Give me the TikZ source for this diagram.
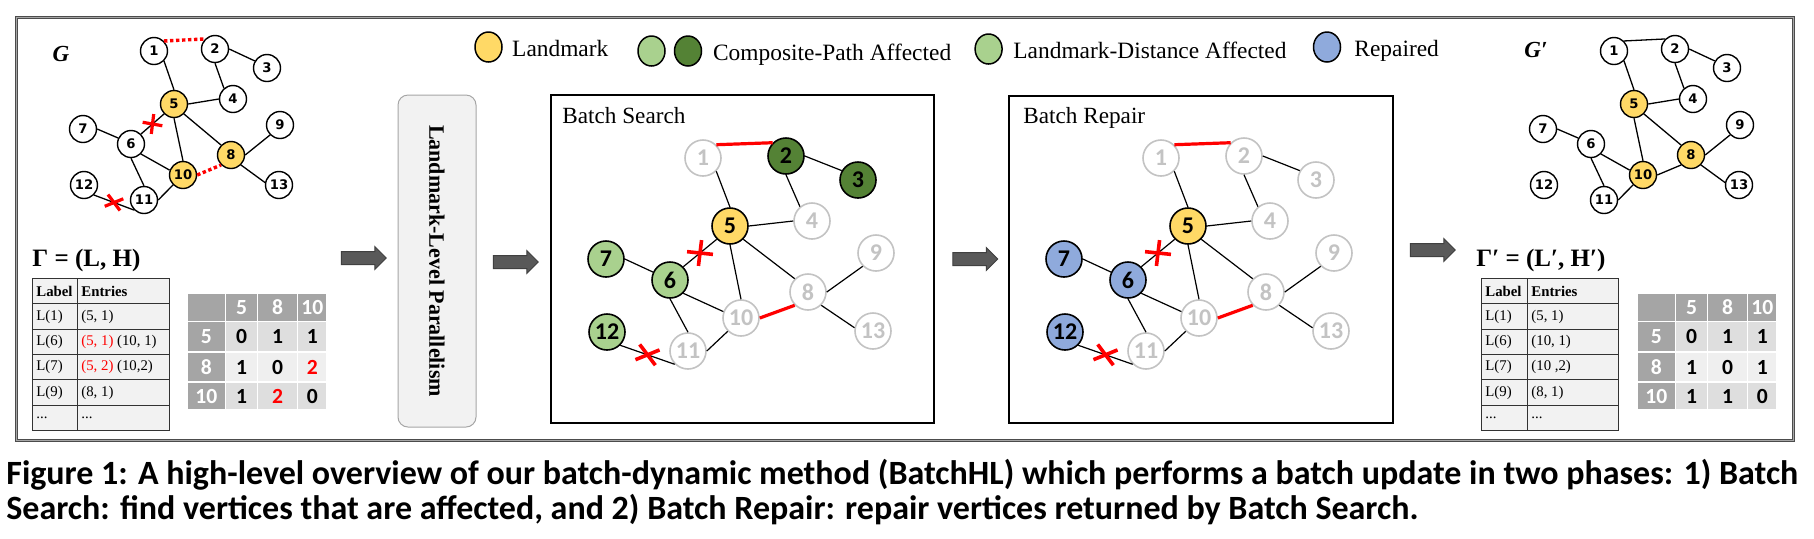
\documentclass[tikz,border=0pt]{standalone}
\usepackage{fontspec}
\setmainfont{Liberation Serif}
\newfontfamily\carl{Carlito}
\newfontfamily\dejv{DejaVu Sans}
\usetikzlibrary{shapes.geometric,shapes.arrows,calc}
\definecolor{lmyel}{HTML}{FFD966}
\definecolor{lgreen}{HTML}{A9D18E}
\definecolor{dgreen}{HTML}{548235}
\definecolor{rblue}{HTML}{8FAADC}
\definecolor{ghost}{HTML}{C3C3C3}
\definecolor{hdr}{HTML}{A5A5A5}
\definecolor{rowa}{HTML}{DEDEDE}
\definecolor{rowb}{HTML}{EFEFEF}
\definecolor{tcell}{HTML}{F2F2F2}
\definecolor{arrowc}{HTML}{595959}
\definecolor{xred}{HTML}{FF0000}

\newcommand\redcross[5]{%
  \draw[draw=xred,line width=#5] ($(#1)+(#3:#2)$) -- ($(#1)+({#3+180}:#2)$);
  \draw[draw=xred,line width=#5] ($(#1)+(#4:#2)$) -- ($(#1)+({#4+180}:#2)$);}
\newcommand\tdots{...}

% matrix row: #1 prefix, #2 row id, #3 y centre, #4 height(pt), #5 style of data cells, #6..#9 texts
\newcommand\hrow[9]{%
  \node[hcell,hh,minimum width=19.25pt,minimum height=#4] (#1#2a) at (\hx+19.25,#3) {#6};
  \node[hcell,#5,minimum width=16pt,minimum height=#4] (#1#2b) at (\hx+54.5,#3) {#7};
  \node[hcell,#5,minimum width=20pt,minimum height=#4] (#1#2c) at (\hx+90.5,#3) {#8};
  \node[hcell,#5,minimum width=14.75pt,minimum height=#4] (#1#2d) at (\hx+125.25,#3) {#9};}

\def\commonedges{1.-45/5.90, 2.0/3.150, 2.-90/4.130, 5.0/4.180, 5.-90/10.90, 5.-45/8.135, 7.0/6.155, 6.-45/10.160, 6.-90/11.90, 11.0/10.-135, 8.0/9.-135, 8.-45/13.170}

\begin{document}
\begin{tikzpicture}[x=0.5pt,y=-0.5pt,
  gn/.style={circle,draw=black,line width=0.7pt,fill=white,minimum size=13.5pt,inner sep=0pt,font=\dejv\bfseries\fontsize{6.6}{7}\selectfont},
  gy/.style={gn,fill=lmyel},
  gedge/.style={line width=0.65pt},
  bn/.style={circle,draw=ghost,line width=0.8pt,fill=white,text=ghost,minimum size=18pt,inner sep=0pt,font=\carl\bfseries\fontsize{12}{12}\selectfont},
  by/.style={bn,draw=black,text=black,fill=lmyel},
  blg/.style={bn,draw=black,text=black,fill=lgreen},
  bdg/.style={bn,draw=black,text=black,fill=dgreen},
  bbl/.style={bn,draw=black,text=black,fill=rblue},
  bedge/.style={line width=0.6pt},
  redsolid/.style={draw=xred,line width=1.6pt},
  reddot/.style={draw=xred,line width=1.7pt,dash pattern=on 1.7pt off 1.3pt},
  leg/.style={ellipse,draw=black,line width=0.75pt,minimum width=13.5pt,minimum height=15pt,inner sep=0pt},
  legt/.style={anchor=base west,inner sep=0pt,font=\fontsize{11.7}{13}\selectfont},
  blockarrow/.style={single arrow,draw=black!75,fill=arrowc,line width=0.5pt,minimum height=22.5pt,single arrow head extend=2.5pt,inner xsep=0pt,inner ysep=3pt,single arrow head indent=0pt},
  bbox/.style={draw=black,line width=1pt,anchor=north west,inner sep=0pt},
  lcell/.style={anchor=north west,draw=black!80,fill=tcell,line width=0.5pt,minimum height=12.67pt,inner sep=0pt},
  ltext/.style={anchor=west,inner sep=0pt,font=\fontsize{7.4}{8}\selectfont},
  hcell/.style={draw=white,line width=0.8pt,inner sep=0pt,font=\carl\bfseries\fontsize{10.8}{11}\selectfont},
  hh/.style={fill=hdr,text=white},
  ra/.style={fill=rowa,text=black},
  rb/.style={fill=rowb,text=black},
  gam/.style={anchor=west,inner sep=0pt,font=\bfseries\fontsize{12.5}{13}\selectfont},
  captext/.style={anchor=base west,inner sep=0pt,font=\carl\bfseries\fontsize{17}{19}\selectfont}
]
\useasboundingbox (0,0) rectangle (1814,538);
\path[fill=white] (0,0) rectangle (1814,538);

% outer frame
\node[draw=black!70,double=black!35,double distance=0.5pt,line width=0.4pt,anchor=north west,minimum width=888.5pt,minimum height=211.5pt,inner sep=0pt] (frame) at (16,17) {};

% ---------- legend ----------
\node[leg,fill=lmyel] (ly) at (488.5,47) {};
\node[legt] (lyt) at (511.8,56.5) {Landmark};
\node[leg,fill=lgreen] (lg1) at (651.5,51) {};
\node[leg,fill=dgreen] (lg2) at (688,51) {};
\node[legt] (lgt) at (712.7,60.5) {Composite-Path Affected};
\node[leg,fill=lgreen] (lg3) at (988.6,49) {};
\node[legt] (lg3t) at (1013,58.5) {Landmark-Distance Affected};
\node[leg,fill=rblue] (lb) at (1327,47) {};
\node[legt] (lbt) at (1354,56.5) {Repaired};

% ---------- graph G ----------
\node[font=\bfseries\itshape\fontsize{11.5}{12}\selectfont] (glab) at (61,54) {G};
\foreach \n/\x/\y/\s in {1/154/51/gn,2/215/49/gn,3/267/68/gn,4/233/99/gn,5/174/104/gy,6/131/144/gn,7/83/129/gn,8/231/155/gy,9/280/125/gn,10/183/175/gy,11/144/200/gn,12/84/185/gn,13/279/185/gn}
  \node[\s] (G\n) at (\x,\y) {\n};
\foreach \a/\b in \commonedges {\draw[gedge] (G\a) -- (G\b);}
\draw[reddot] (G1.45) -- (G2.135);
\draw[reddot] (G10.0) -- (G8.-135);
\draw[gedge] (G5.-135) -- coordinate[pos=0.5] (GXa) (G6.45);
\draw[gedge] (G12.-45) -- coordinate[pos=0.5] (GXb) (G11.-135);
\redcross{GXa}{5pt}{83}{-10}{1.6pt}
\redcross{GXb}{5pt}{-53}{22}{1.6pt}

% ---------- Gamma = (L,H) ----------
\node[gam] (gam) at (32,260) {Γ = (L, H)};
\foreach \r/\ta/\tb in {0/{\bfseries Label}/{\bfseries Entries},1/L(1)/{(5, 1)},2/L(6)/{\textcolor{xred}{(5, 1)} (10, 1)},3/L(7)/{\textcolor{xred}{(5, 2)} (10,2)},4/L(9)/{(8, 1)},5/\tdots/\tdots}{
  \node[lcell,minimum width=22.5pt] (La\r) at (32,{278+25.33*\r}) {};
  \node[lcell,minimum width=46pt] (Lb\r) at (77,{278+25.33*\r}) {};
  \node[ltext] (Lat\r) at ([xshift=2pt]La\r.west) {\ta};
  \node[ltext] (Lbt\r) at ([xshift=2pt]Lb\r.west) {\tb};
}
\def\hx{187}
\hrow{H}{0}{307.25}{14.25pt}{hh}{}{5}{8}{10}
\hrow{H}{1}{336.75}{15.25pt}{ra}{5}{0}{1}{1}
\hrow{H}{2}{367}{15pt}{rb}{8}{1}{0}{\textcolor{xred}{2}}
\hrow{H}{3}{396}{14pt}{ra}{10}{1}{\textcolor{xred}{2}}{0}

% ---------- arrows and parallelism box ----------
\node[blockarrow] (ar1) at (360.5,258) {};
\node[rotate=-90,draw=black!35,fill=tcell,rounded corners=5pt,minimum width=166pt,minimum height=39pt,line width=0.5pt,font=\bfseries\fontsize{11}{12}\selectfont] (llp) at (437,261) {Landmark-Level Parallelism};
\node[blockarrow] (ar2) at (512.5,262) {};
\node[blockarrow] (ar3) at (972,259) {};
\node[blockarrow] (ar4) at (1429.5,250) {};

% ---------- Batch Search ----------
\node[bbox,minimum width=191.5pt,minimum height=164pt] (sbox) at (550,94) {};
\node[anchor=base west,inner sep=0pt,font=\fontsize{11.6}{13}\selectfont] (stitle) at (562,123) {Batch Search};
\foreach \n/\x/\y/\s in {1/703/158/bn,2/786/156/bdg,3/858/180/bdg,4/812/221/bn,5/730/226/by,6/670/280/blg,7/606/259/blg,8/808/292/bn,9/876/253/bn,10/741/318/bn,11/688/351/bn,12/607/332/blg,13/873/331/bn}
  \node[\s] (S\n) at (\x,\y) {\n};
\foreach \a/\b in \commonedges {\draw[bedge] (S\a) -- (S\b);}
\draw[redsolid] (S1.45) -- (S2.135);
\draw[redsolid] (S10.0) -- (S8.-135);
\draw[bedge] (S5.-135) -- coordinate[pos=0.5] (SXa) (S6.45);
\draw[bedge] (S12.-45) -- coordinate[pos=0.5] (SXb) (S11.-135);
\redcross{SXa}{6.5pt}{83}{-6}{1.8pt}
\redcross{SXb}{6.5pt}{-53}{22}{1.8pt}

% ---------- Batch Repair ----------
\node[bbox,minimum width=192pt,minimum height=163.5pt] (rbox) at (1008,95) {};
\node[anchor=base west,inner sep=0pt,font=\fontsize{11.6}{13}\selectfont] (rtitle) at (1023,123) {Batch Repair};
\begin{scope}[xshift=229pt]
\foreach \n/\x/\y/\s in {1/703/158/bn,2/786/156/bn,3/858/180/bn,4/812/221/bn,5/730/226/by,6/670/280/bbl,7/606/259/bbl,8/808/292/bn,9/876/253/bn,10/741/318/bn,11/688/351/bn,12/607/332/bbl,13/873/331/bn}
  \node[\s] (R\n) at (\x,\y) {\n};
\foreach \a/\b in \commonedges {\draw[bedge] (R\a) -- (R\b);}
\draw[redsolid] (R1.45) -- (R2.135);
\draw[redsolid] (R10.0) -- (R8.-135);
\draw[bedge] (R5.-135) -- coordinate[pos=0.5] (RXa) (R6.45);
\draw[bedge] (R12.-45) -- coordinate[pos=0.5] (RXb) (R11.-135);
\redcross{RXa}{6.5pt}{83}{-6}{1.8pt}
\redcross{RXb}{6.5pt}{-53}{22}{1.8pt}
\end{scope}

% ---------- graph G' ----------
\node[font=\bfseries\itshape\fontsize{11.5}{12}\selectfont] (gplab) at (1536,50) {G′};
\begin{scope}[xshift=730pt]
\foreach \n/\x/\y/\s in {1/154/51/gn,2/215/49/gn,3/267/68/gn,4/233/99/gn,5/174/104/gy,6/131/144/gn,7/83/129/gn,8/231/155/gy,9/280/125/gn,10/183/175/gy,11/144/200/gn,12/84/185/gn,13/279/185/gn}
  \node[\s] (Q\n) at (\x,\y) {\n};
\foreach \a/\b in \commonedges {\draw[gedge] (Q\a) -- (Q\b);}
\draw[gedge] (Q1.45) -- (Q2.135);
\draw[gedge] (Q10.0) -- (Q8.-135);
\end{scope}

% ---------- Gamma' ----------
\node[gam] (gamp) at (1476,260) {Γ′ = (L′, H′)};
\foreach \r/\ta/\tb in {0/{\bfseries Label}/{\bfseries Entries},1/L(1)/{(5, 1)},2/L(6)/{(10, 1)},3/L(7)/{(10 ,2)},4/L(9)/{(8, 1)},5/\tdots/\tdots}{
  \node[lcell,minimum width=23pt] (Ma\r) at (1481,{278+25.33*\r}) {};
  \node[lcell,minimum width=45.5pt] (Mb\r) at (1527,{278+25.33*\r}) {};
  \node[ltext] (Mat\r) at ([xshift=2pt]Ma\r.west) {\ta};
  \node[ltext] (Mbt\r) at ([xshift=2pt]Mb\r.west) {\tb};
}
\def\hx{1637}
\hrow{K}{0}{307.25}{14.25pt}{hh}{}{5}{8}{10}
\hrow{K}{1}{336.75}{15.25pt}{ra}{5}{0}{1}{1}
\hrow{K}{2}{367}{15pt}{rb}{8}{1}{0}{1}
\hrow{K}{3}{396}{14pt}{ra}{10}{1}{1}{0}

% ---------- caption ----------
\node[captext] (cap1) at (6,484) {Figure 1: A high-level overview of our batch-dynamic method (BatchHL) which performs a batch update in two phases: 1) Batch};
\node[captext] (cap2) at (6,519) {Search: find vertices that are affected, and 2) Batch Repair: repair vertices returned by Batch Search.};
\end{tikzpicture}
\end{document}
